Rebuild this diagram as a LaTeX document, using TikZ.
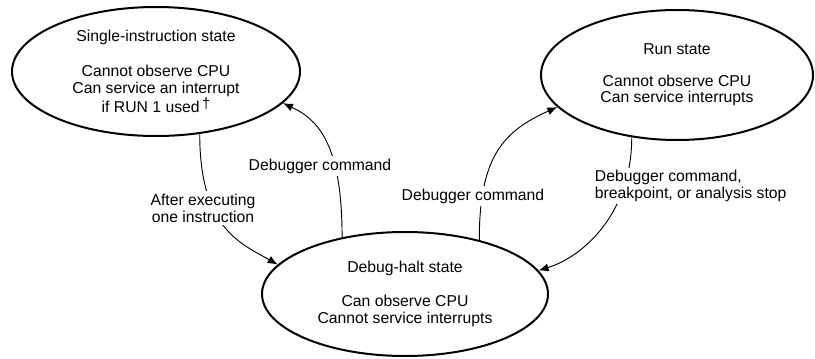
\documentclass[tikz,border=0pt]{standalone}
\usepackage{fontspec}
\setmainfont{Liberation Sans}
\usetikzlibrary{arrows.meta,shapes.geometric}

\begin{document}
\begin{tikzpicture}[
        x=0.75pt, y=0.75pt,
        font=\fontsize{11.8}{12.6}\selectfont,
        state/.style={ellipse, draw, line width=1.5pt, align=center, inner sep=0pt},
        arrow/.style={-{Latex[length=7.5pt,width=6pt]}, line width=0.7pt},
        lbl/.style={fill=white, inner sep=2pt}
    ]
        \useasboundingbox (0,0) rectangle (815,358);

        % States
        \node[state, minimum width=216pt, minimum height=96.75pt] (single) at (156,286.5)
            {Single-instruction state\\[14pt]Cannot observe CPU\\Can service an interrupt\\if RUN 1 used\raisebox{.45ex}{\fontsize{11}{11}\selectfont\,†}};
        \node[state, minimum width=204pt, minimum height=97.5pt] (run) at (677,283)
            {Run state\\[11pt]Cannot observe CPU\\Can service interrupts};
        \node[state, minimum width=214.5pt, minimum height=93pt] (halt) at (405,64)
            {Debug-halt state\\[12.5pt]Can observe CPU\\Cannot service interrupts};

        % Transitions
        \draw[arrow] (single.-55) to[out=-90, in=150, out looseness=1.6, in looseness=0.7] (halt.167);
        \draw[arrow] (halt.138) to[out=90, in=-25, out looseness=1.6, in looseness=0.7] (single.-14);
        \draw[arrow] (halt.36) to[out=90, in=204, out looseness=1.36, in looseness=1] (run.195);
        \draw[arrow] (run.234) to[out=-90, in=17, out looseness=1.2, in looseness=0.73] (halt.10);

        % Transition labels
        \node[lbl, align=center] (execlbl) at (203,150) {After executing\\one instruction};
        \node[lbl] (backlbl) at (320,192) {Debugger command};
        \node[lbl] (golbl) at (473,162) {Debugger command};
        \node[lbl, align=left, anchor=west] (stoplbl) at (592,172) {Debugger command,\\breakpoint, or analysis stop};

    \end{tikzpicture}
\end{document}
